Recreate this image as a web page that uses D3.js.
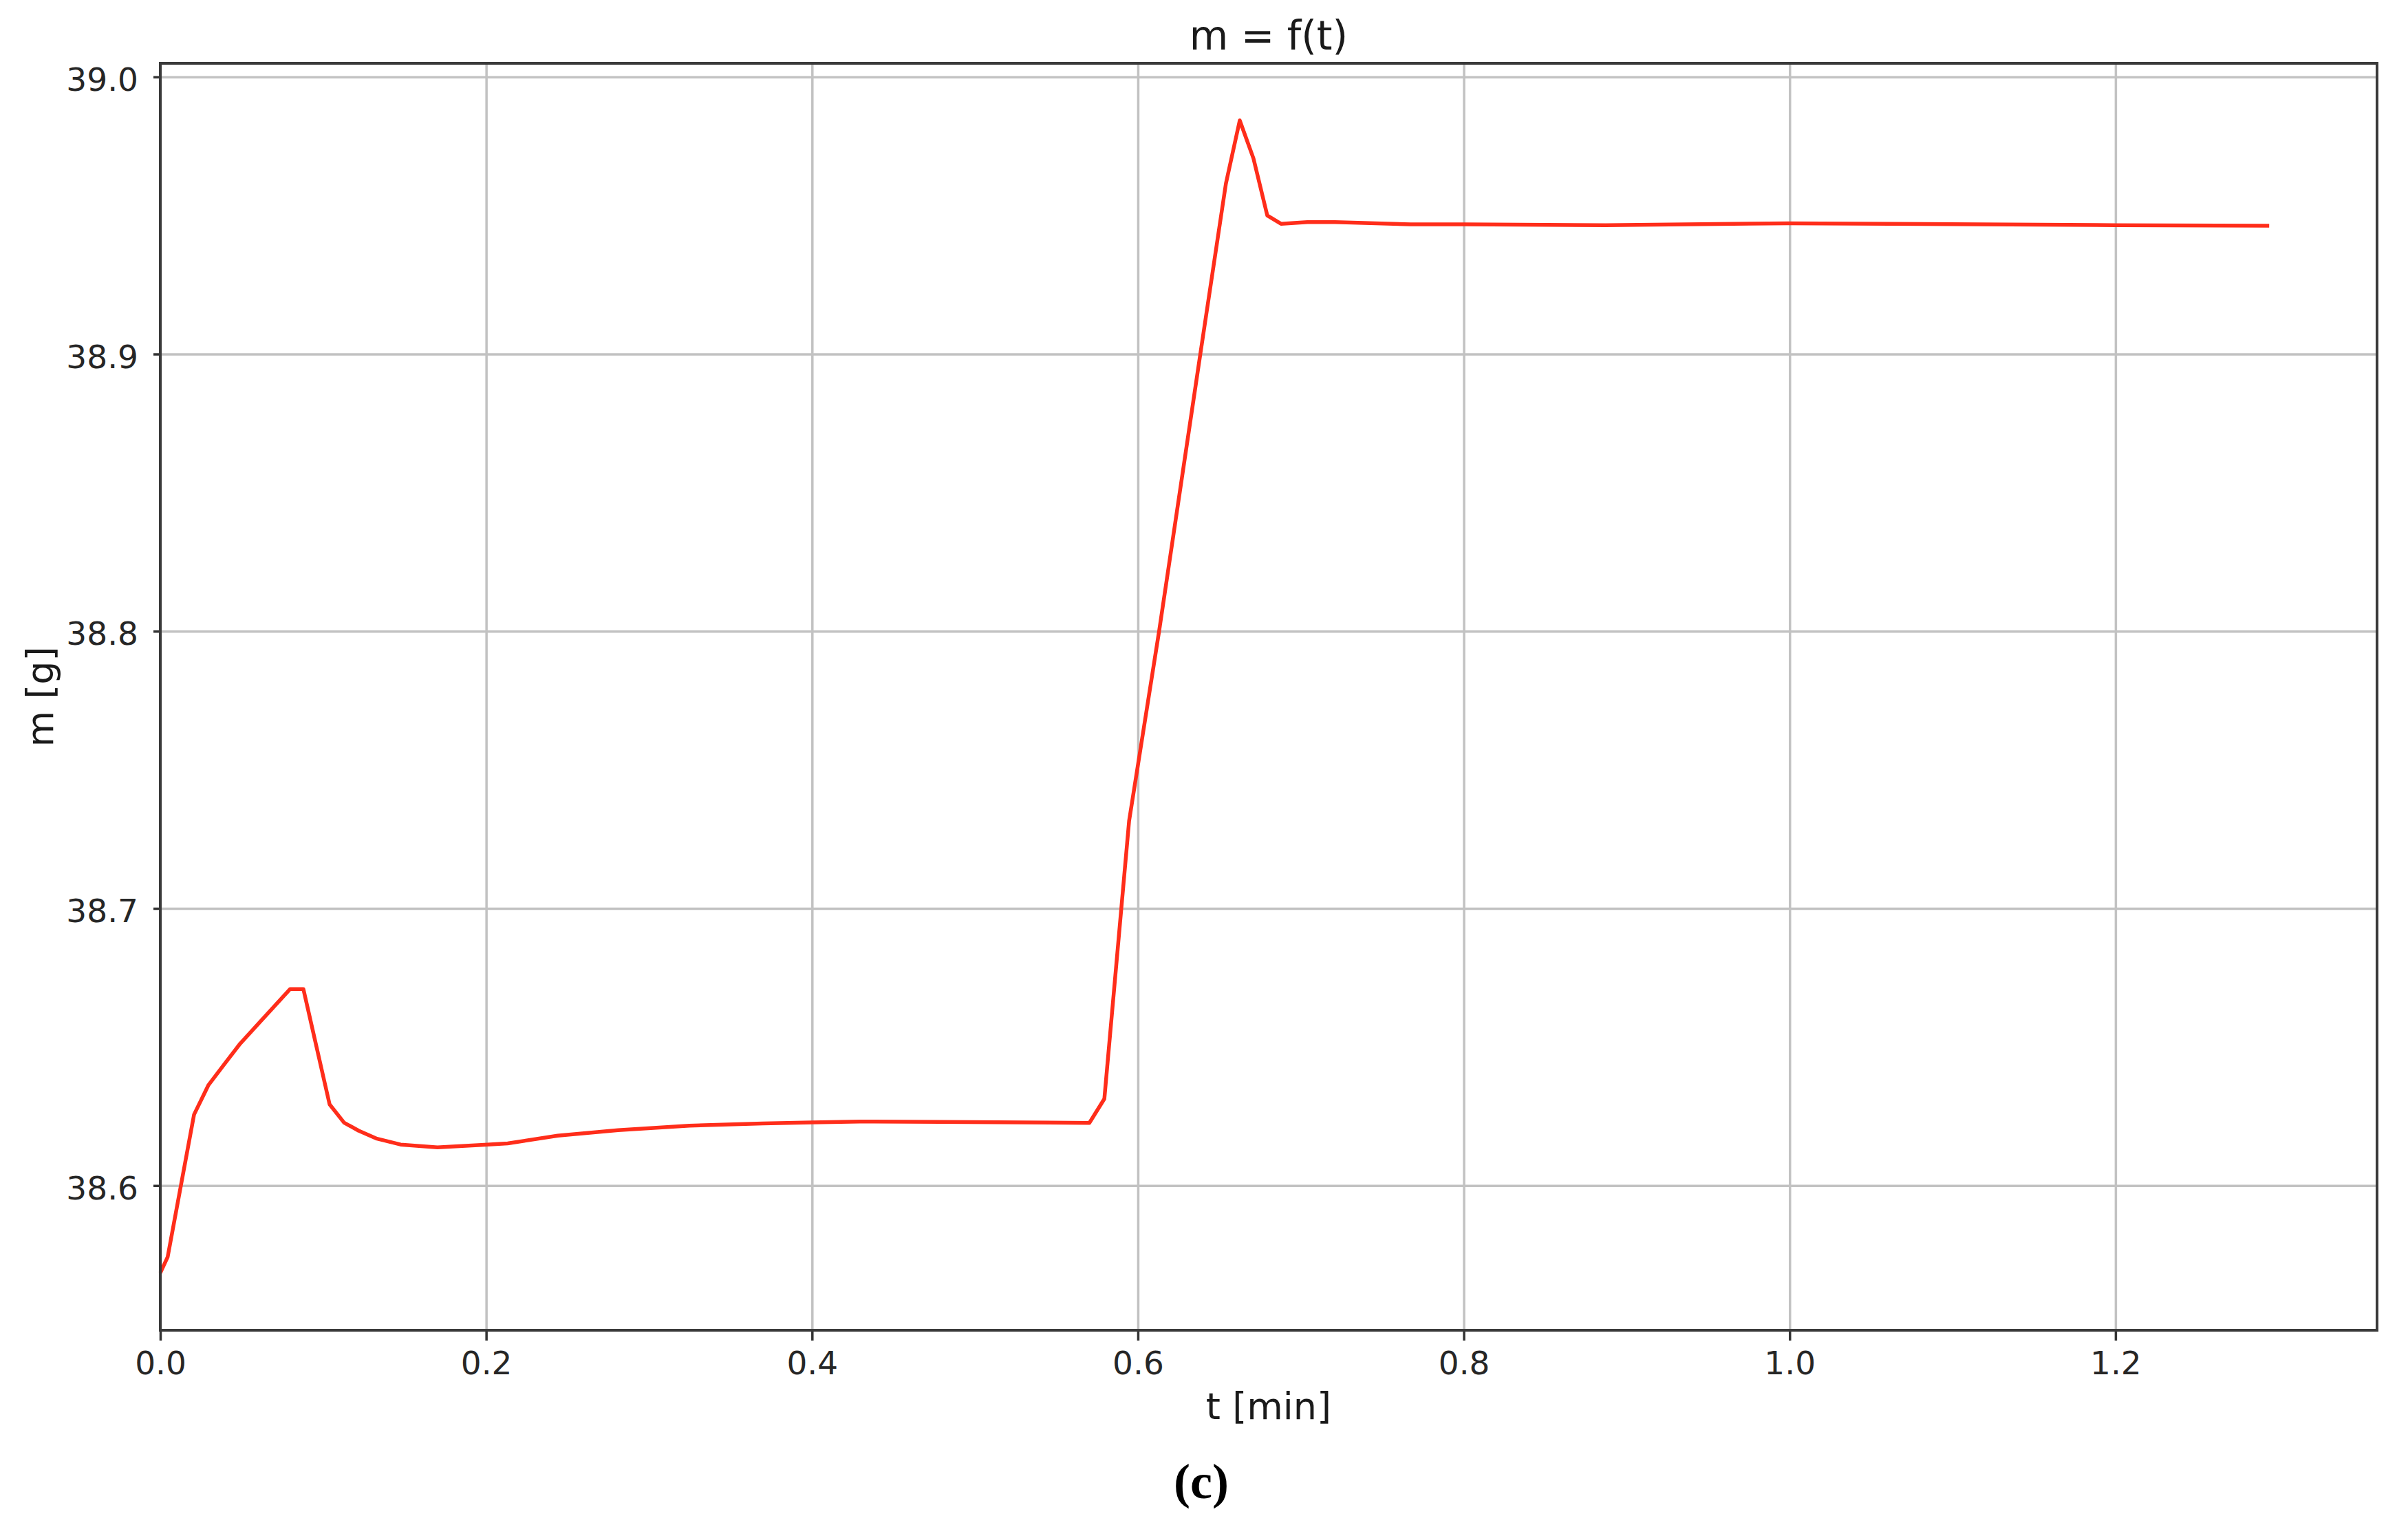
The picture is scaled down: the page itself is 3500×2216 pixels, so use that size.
<!DOCTYPE html>
<html>
<head>
<meta charset="UTF-8">
<title>m = f(t)</title>
<script src="https://cdn.jsdelivr.net/npm/d3@7"></script>
<style>
  body { margin: 0; background: #fff; }
  svg { display: block; background: #fff; }
  .tick text { font-family: "DejaVu Sans", sans-serif; fill: #262626; }
</style>
</head>
<body>
<svg id="chart" width="3500" height="2216"></svg>
<script>
// data (t in minutes, m in grams)
var tValues = [0.0000, 0.0045, 0.0207, 0.0296, 0.0393, 0.0490, 0.0619, 0.0797, 0.0878,
  0.1039, 0.1128, 0.1217, 0.1330, 0.1475, 0.1701, 0.2008, 0.2132, 0.2439, 0.2810,
  0.3246, 0.3698, 0.4000, 0.4293, 0.4787, 0.5300, 0.5702, 0.5794, 0.5946, 0.6130,
  0.6383, 0.6540, 0.6625, 0.6709, 0.6794, 0.6878, 0.7040, 0.7209, 0.7673, 0.8005,
  0.8870, 0.9991, 1.2000, 1.2943];
var mValues = [38.5685, 38.5742, 38.6256, 38.6363, 38.6438, 38.6512, 38.6595, 38.6709, 38.6709,
  38.6293, 38.6227, 38.6198, 38.6169, 38.6148, 38.6138, 38.6148, 38.6152, 38.6180, 38.6200,
  38.6216, 38.6224, 38.6228, 38.6231, 38.6230, 38.6228, 38.6226, 38.6313, 38.7316, 38.8000,
  38.9000, 38.9615, 38.9843, 38.9706, 38.9500, 38.9470, 38.9476, 38.9476, 38.9468, 38.9468,
  38.9465, 38.9472, 38.9465, 38.9463];

var xTicks = [0.0, 0.2, 0.4, 0.6, 0.8, 1.0, 1.2];
var yTicks = [38.6, 38.7, 38.8, 38.9, 39.0];

var titleText = "m = f(t)";
var xLabel = "t [min]";
var yLabel = "m [g]";
var caption = "(c)";

// plot frame
var margin = {top: 92, right: 45, bottom: 283, left: 233};
var svg = d3.select("#chart");
var width = +svg.attr("width") - margin.left - margin.right;
var height = +svg.attr("height") - margin.top - margin.bottom;

var g = svg.append("g")
  .attr("transform", "translate(" + margin.left + "," + margin.top + ")");

var x = d3.scaleLinear().domain([0, 1.3605]).range([0, width]);
var y = d3.scaleLinear().domain([38.5478, 39.0049]).range([height, 0]);

// grid
g.append("g")
  .attr("class", "grid")
  .attr("transform", "translate(0," + height + ")")
  .call(d3.axisBottom(x).tickValues(xTicks).tickSize(-height).tickFormat(""))
  .call(function(s) { s.select(".domain").remove(); })
  .selectAll("line").attr("stroke", "#c2c2c2").attr("stroke-width", 3.5);

g.append("g")
  .attr("class", "grid")
  .call(d3.axisLeft(y).tickValues(yTicks).tickSize(-width).tickFormat(""))
  .call(function(s) { s.select(".domain").remove(); })
  .selectAll("line").attr("stroke", "#c2c2c2").attr("stroke-width", 3.5);

// curve
var pts = tValues.map(function(t, i) { return [t, mValues[i]]; });
var line = d3.line()
  .x(function(d) { return x(d[0]); })
  .y(function(d) { return y(d[1]); });

g.append("path")
  .datum(pts)
  .attr("d", line)
  .attr("fill", "none")
  .attr("stroke", "#ff2d1a")
  .attr("stroke-width", 5.5)
  .attr("stroke-linejoin", "round");

// axes
var xAxis = g.append("g")
  .attr("transform", "translate(0," + height + ")")
  .call(d3.axisBottom(x).tickValues(xTicks).tickFormat(d3.format(".1f"))
    .tickSizeInner(15).tickSizeOuter(0).tickPadding(16));
xAxis.select(".domain").remove();
xAxis.selectAll(".tick line").attr("stroke", "#333").attr("stroke-width", 3.5);
xAxis.selectAll("text").attr("font-size", 47);

var yAxis = g.append("g")
  .call(d3.axisLeft(y).tickValues(yTicks).tickFormat(d3.format(".1f"))
    .tickSizeInner(10).tickSizeOuter(0).tickPadding(22));
yAxis.select(".domain").remove();
yAxis.selectAll(".tick line").attr("stroke", "#333").attr("stroke-width", 3.5);
yAxis.selectAll("text").attr("font-size", 47).attr("dy", "0.42em");

// frame
g.append("rect")
  .attr("width", width)
  .attr("height", height)
  .attr("fill", "none")
  .attr("stroke", "#3a3a3a")
  .attr("stroke-width", 4);

// texts
svg.append("text")
  .attr("x", margin.left + width / 2)
  .attr("y", 72)
  .attr("text-anchor", "middle")
  .attr("font-family", "DejaVu Sans, sans-serif")
  .attr("font-size", 58)
  .attr("fill", "#1a1a1a")
  .text(titleText);

svg.append("text")
  .attr("x", margin.left + width / 2)
  .attr("y", 2062)
  .attr("text-anchor", "middle")
  .attr("font-family", "DejaVu Sans, sans-serif")
  .attr("font-size", 54)
  .attr("fill", "#1a1a1a")
  .text(xLabel);

svg.append("text")
  .attr("transform", "translate(77," + (margin.top + height / 2) + ") rotate(-90)")
  .attr("text-anchor", "middle")
  .attr("font-family", "DejaVu Sans, sans-serif")
  .attr("font-size", 54)
  .attr("fill", "#1a1a1a")
  .text(yLabel);

svg.append("text")
  .attr("x", 1746)
  .attr("y", 2177)
  .attr("text-anchor", "middle")
  .attr("font-family", "Liberation Serif, serif")
  .attr("font-weight", "bold")
  .attr("font-size", 72)
  .attr("fill", "#000")
  .text(caption);
</script>
</body>
</html>
